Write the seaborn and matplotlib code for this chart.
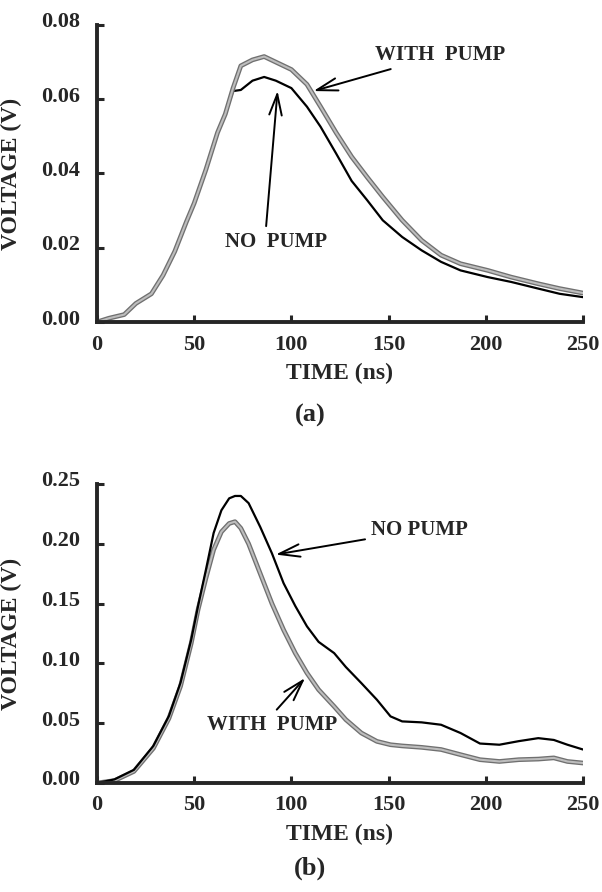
import numpy as np
import pandas as pd
import matplotlib
matplotlib.use("Agg")
import matplotlib.pyplot as plt
import matplotlib.transforms as mtransforms
import seaborn as sns

# panel (a): time (ns) and voltage (V)
t_a = [0, 6, 14, 20, 28, 34, 40, 46, 50, 56, 62, 66, 70, 74, 80, 86, 92, 100, 108,
       115, 123, 131, 139, 147, 157, 167, 177, 187, 201, 213, 227, 238, 250]
with_pump_a = [0.000, 0.001, 0.002, 0.005, 0.0076, 0.0126, 0.019, 0.027, 0.032, 0.041,
               0.051, 0.056, 0.063, 0.069, 0.0706, 0.0715, 0.070, 0.068, 0.064, 0.058,
               0.051, 0.0445, 0.039, 0.0337, 0.0274, 0.022, 0.018, 0.0157, 0.0139,
               0.0121, 0.0103, 0.009, 0.0078]
no_pump_a = [0.000, 0.001, 0.002, 0.005, 0.0076, 0.0126, 0.019, 0.027, 0.032, 0.041,
             0.051, 0.056, 0.0622, 0.0625, 0.065, 0.066, 0.065, 0.063, 0.058, 0.0526,
             0.0454, 0.038, 0.0328, 0.0274, 0.0229, 0.0193, 0.0162, 0.0139, 0.0121,
             0.0108, 0.009, 0.0076, 0.0067]

# panel (b)
t_b = [0, 9, 19, 29, 37, 43, 48.5, 52, 56, 60, 64, 68, 71, 74, 78, 84, 90, 96, 102, 108,
       114, 122, 128, 136, 144, 151, 157, 167, 177, 187, 197, 207, 217, 227, 235, 242, 250]
no_pump_b = [0.0, 0.003, 0.011, 0.031, 0.056, 0.084, 0.12, 0.148, 0.178, 0.209, 0.228,
             0.238, 0.240, 0.240, 0.234, 0.214, 0.192, 0.167, 0.148, 0.131, 0.118,
             0.1086, 0.097, 0.0835, 0.0696, 0.0557, 0.0515, 0.0507, 0.0487, 0.0418,
             0.033, 0.032, 0.035, 0.0375, 0.036, 0.032, 0.028]
with_pump_b = [0.0, 0.002, 0.0097, 0.029, 0.054, 0.081, 0.117, 0.145, 0.171, 0.195, 0.21,
               0.217, 0.2185, 0.213, 0.2, 0.175, 0.15, 0.128, 0.1086, 0.092, 0.078,
               0.064, 0.053, 0.0418, 0.0348, 0.032, 0.031, 0.0298, 0.028, 0.0237,
               0.0195, 0.018, 0.0195, 0.02, 0.021, 0.018, 0.0167]

x_ticks = [0, 50, 100, 150, 200, 250]
y_ticks_a = [0.00, 0.02, 0.04, 0.06, 0.08]
y_ticks_b = [0.00, 0.05, 0.10, 0.15, 0.20, 0.25]

sns.set_style("ticks")
plt.rcParams['font.family'] = ['Liberation Serif', 'DejaVu Serif']
plt.rcParams['font.weight'] = 'bold'

fig = plt.figure(figsize=(6.02, 8.92), dpi=100)
ax_a = fig.add_axes([0.1611, 0.639, 0.8073, 0.333])
ax_b = fig.add_axes([0.1611, 0.1222, 0.8073, 0.3352])


def gray_trace(ax, t, v):
    # dotted-looking gray trace: dark rim + light core
    sns.lineplot(x=t, y=v, ax=ax, color='#707070', lw=3.4, sort=False)
    sns.lineplot(x=t, y=v, ax=ax, color='#bdbdbd', lw=1.5, sort=False)


def black_trace(ax, t, v):
    sns.lineplot(x=t, y=v, ax=ax, color='black', lw=1.6, sort=False)


black_trace(ax_a, t_a, no_pump_a)
gray_trace(ax_a, t_a, with_pump_a)

gray_trace(ax_b, t_b, with_pump_b)
black_trace(ax_b, t_b, no_pump_b)

arrow = dict(arrowstyle='->,head_length=1.0,head_width=0.3', color='black', lw=1.4)
txt = dict(fontsize=15, fontweight='bold', va='center')

ax_a.annotate('WITH  PUMP', xy=(110, 0.062), xytext=(143, 0.0719),
              arrowprops=arrow, ha='left', **txt)
ax_a.annotate('NO  PUMP', xy=(93, 0.063), xytext=(92, 0.0215),
              arrowprops=dict(arrow, relpos=(0.4, 1.0)), ha='center', **txt)
ax_b.annotate('NO PUMP', xy=(90.5, 0.1906), xytext=(141, 0.2115),
              arrowprops=arrow, ha='left', **txt)
ax_b.annotate('WITH  PUMP', xy=(108, 0.0895), xytext=(90, 0.0485),
              arrowprops=dict(arrow, relpos=(0.5, 1.0)), ha='center', **txt)

shift_up = mtransforms.ScaledTranslation(0, 0.05, fig.dpi_scale_trans)

for ax, yt, cap, cap_y in [(ax_a, y_ticks_a, '(a)', -0.316), (ax_b, y_ticks_b, '(b)', -0.284)]:
    ax.set_xlim(0, 250)
    ax.set_ylim(yt[0], yt[-1])
    ax.set_xticks(x_ticks)
    ax.set_yticks(yt)
    ax.set_xticklabels([str(x) for x in x_ticks])
    ax.set_yticklabels(['{:.2f}'.format(y) for y in yt])
    ax.tick_params(direction='in', length=5, width=2.2, labelsize=16)
    ax.tick_params(axis='y', pad=12)
    ax.tick_params(axis='x', pad=9)
    for lab in ax.get_xticklabels() + ax.get_yticklabels():
        lab.set_fontweight('bold')
    for lab in ax.get_yticklabels():
        lab.set_transform(lab.get_transform() + shift_up)
    for s in ['top', 'right']:
        ax.spines[s].set_visible(False)
    for s in ['left', 'bottom']:
        ax.spines[s].set_linewidth(2.8)
    ax.set_xlabel('TIME (ns)', fontsize=17, fontweight='bold', labelpad=6)
    ax.set_ylabel('VOLTAGE (V)', fontsize=17, fontweight='bold')
    ax.yaxis.set_label_coords(-0.154, 0.5)
    ax.text(0.438, cap_y, cap, transform=ax.transAxes,
            fontsize=19, fontweight='bold', ha='center', va='center')

fig.savefig('out.png', dpi=100, facecolor='white')
